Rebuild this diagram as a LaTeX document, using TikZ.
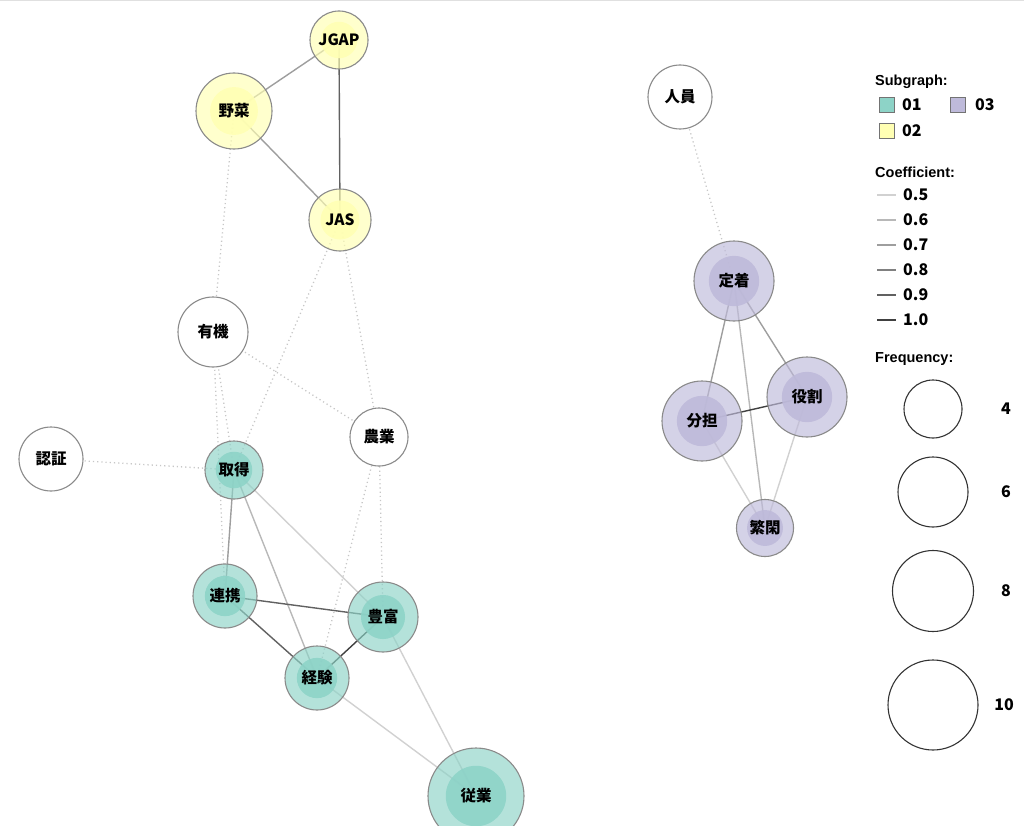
\documentclass[tikz,border=0pt]{standalone}
\usepackage{fontspec}
\setmainfont{Liberation Sans}
\newfontfamily\jpfont{Noto Sans CJK JP}
\usetikzlibrary{backgrounds}
\definecolor{sgone}{HTML}{8DD3C7}
\definecolor{sgtwo}{HTML}{FFFFB3}
\definecolor{sgthree}{HTML}{BEBADA}
\definecolor{rim}{HTML}{8A8A8A}
\tikzset{
	word node/.style 2 args={% colour, radius
		circle,
		draw=rim,
		line width=1.1pt,
		inner sep=0pt,
		minimum size=2*#2,
		fill=#1,
		fill opacity=0.66,
		text opacity=1,
		font=\jpfont\bfseries\fontsize{15.5}{16}\selectfont,
		path picture={
			\fill[#1,fill opacity=0.9] (path picture bounding box.center) circle [radius=0.63*#2];
		}
	},
	free word/.style={% radius
		circle,
		draw=rim,
		line width=1.1pt,
		inner sep=0pt,
		fill=white,
		minimum size=2*#1,
		font=\jpfont\bfseries\fontsize{15.5}{16}\selectfont
	},
	coefficient/.style={
		line width=1.4pt,
		draw=black!#1
	},
	cross edge/.style={
		line width=1.3pt,
		draw=black!22,
		dash pattern=on 1.2pt off 3pt
	}
}
\tikzset{
	legend head/.style={
		anchor=base west,
		inner sep=0pt,
		font=\bfseries\fontsize{14.5}{15}\selectfont
	},
	legend text/.style={
		anchor=west,
		inner sep=0pt,
		font=\jpfont\bfseries\fontsize{16}{16}\selectfont
	},
	swatch/.style={
		rectangle,
		draw=black!55,
		line width=1pt,
		fill=#1,
		minimum size=15pt,
		inner sep=0pt
	},
	size circle/.style={
		circle,
		draw=black!80,
		line width=1.1pt,
		inner sep=0pt,
		minimum size=2*#1
	}
}

\begin{document}
\begin{tikzpicture}[
		x=1pt,y=-1pt,
		c5/.style={coefficient=18},
		c6/.style={coefficient=28},
		c7/.style={coefficient=38},
		c8/.style={coefficient=50},
		c9/.style={coefficient=62},
		c10/.style={coefficient=75}
		]
		\useasboundingbox (0,0) rectangle (1024,832);
		\draw[black!12,line width=2pt] (0,0.5) -- (1024,0.5);
		\clip (0,1.5) rectangle (1024,825);
		% subgraph 02
		\node[word node={sgtwo}{29}] (jgap) at (339,40) {JGAP};
		\node[word node={sgtwo}{38}] (yasai) at (234,111) {野菜};
		\node[word node={sgtwo}{31}] (jas) at (340,220) {JAS};
		% subgraph 01
		\node[word node={sgone}{29}] (shutoku) at (234,470) {取得};
		\node[word node={sgone}{32}] (renkei) at (225,596) {連携};
		\node[word node={sgone}{35}] (hofu) at (383,617) {豊富};
		\node[word node={sgone}{32}] (keiken) at (317,678) {経験};
		\node[word node={sgone}{48}] (jugyo) at (476,796) {従業};
		% subgraph 03
		\node[word node={sgthree}{40}] (teichaku) at (734,281) {定着};
		\node[word node={sgthree}{40}] (yakuwari) at (807,397) {役割};
		\node[word node={sgthree}{40}] (buntan) at (702,421) {分担};
		\node[word node={sgthree}{28.5}] (hankan) at (765,528) {繁閑};
		% words outside the subgraphs
		\node[free word=35] (yuki) at (213,332) {有機};
		\node[free word=32] (ninsho) at (51,459) {認証};
		\node[free word=29] (nogyo) at (379,437) {農業};
		\node[free word=32] (jinin) at (680,97) {人員};
		\begin{scope}[on background layer]
			\draw[c7] (jgap.center) -- (yasai.center);
			\draw[c9] (jgap.center) -- (jas.center);
			\draw[c7] (yasai.center) -- (jas.center);
			\draw[c7] (shutoku.center) -- (renkei.center);
			\draw[c6] (shutoku.center) -- (keiken.center);
			\draw[c5] (shutoku.center) -- (hofu.center);
			\draw[c9] (renkei.center) -- (hofu.center);
			\draw[c9] (renkei.center) -- (keiken.center);
			\draw[c10] (hofu.center) -- (keiken.center);
			\draw[c5] (keiken.center) -- (jugyo.center);
			\draw[c5] (hofu.center) -- (jugyo.center);
			\draw[c7] (teichaku.center) -- (buntan.center);
			\draw[c7] (teichaku.center) -- (yakuwari.center);
			\draw[c6] (teichaku.center) -- (hankan.center);
			\draw[c10] (buntan.center) -- (yakuwari.center);
			\draw[c5] (buntan.center) -- (hankan.center);
			\draw[c5] (yakuwari.center) -- (hankan.center);
			% links across subgraphs
			\draw[cross edge] (yasai.center) -- (yuki.center);
			\draw[cross edge] (yuki.center) -- (shutoku.center);
			\draw[cross edge] (yuki.center) -- (renkei.center);
			\draw[cross edge] (yuki.center) -- (nogyo.center);
			\draw[cross edge] (jas.center) -- (shutoku.center);
			\draw[cross edge] (jas.center) -- (nogyo.center);
			\draw[cross edge] (ninsho.center) -- (shutoku.center);
			\draw[cross edge] (nogyo.center) -- (hofu.center);
			\draw[cross edge] (nogyo.center) -- (keiken.center);
			\draw[cross edge] (jinin.center) -- (teichaku.center);
		\end{scope}
		% legend
		\node[legend head] (subhead) at (875,86) {Subgraph:};
		\node[swatch=sgone] (sw1) at (887,105) {};
		\node[legend text] at (902,105) {01};
		\node[swatch=sgthree] (sw3) at (958,105) {};
		\node[legend text] at (975,105) {03};
		\node[swatch=sgtwo] (sw2) at (887,131) {};
		\node[legend text] at (902,131) {02};
		\node[legend head] (coefhead) at (875,177) {Coefficient:};
		\foreach \c/\v [count=\i from 0] in {5/0.5,6/0.6,7/0.7,8/0.8,9/0.9,10/1.0} {
			\node[legend text] (k\c) at (903,195+25*\i) {\v};
			\draw[c\c] ([xshift=-26pt]k\c.west) -- ([xshift=-7pt]k\c.west);
		}
		\node[legend head] (freqhead) at (875,362) {Frequency:};
		\node[size circle=29] (f4) at (933,409) {};
		\node[size circle=35] (f6) at (933,492) {};
		\node[size circle=40.5] (f8) at (933,591) {};
		\node[size circle=45] (f10) at (933,705) {};
		\node[legend text,anchor=center] at (1006,409) {4};
		\node[legend text,anchor=center] at (1006,492) {6};
		\node[legend text,anchor=center] at (1006,591) {8};
		\node[legend text,anchor=center] at (1004,705) {10};
	\end{tikzpicture}
\end{document}
